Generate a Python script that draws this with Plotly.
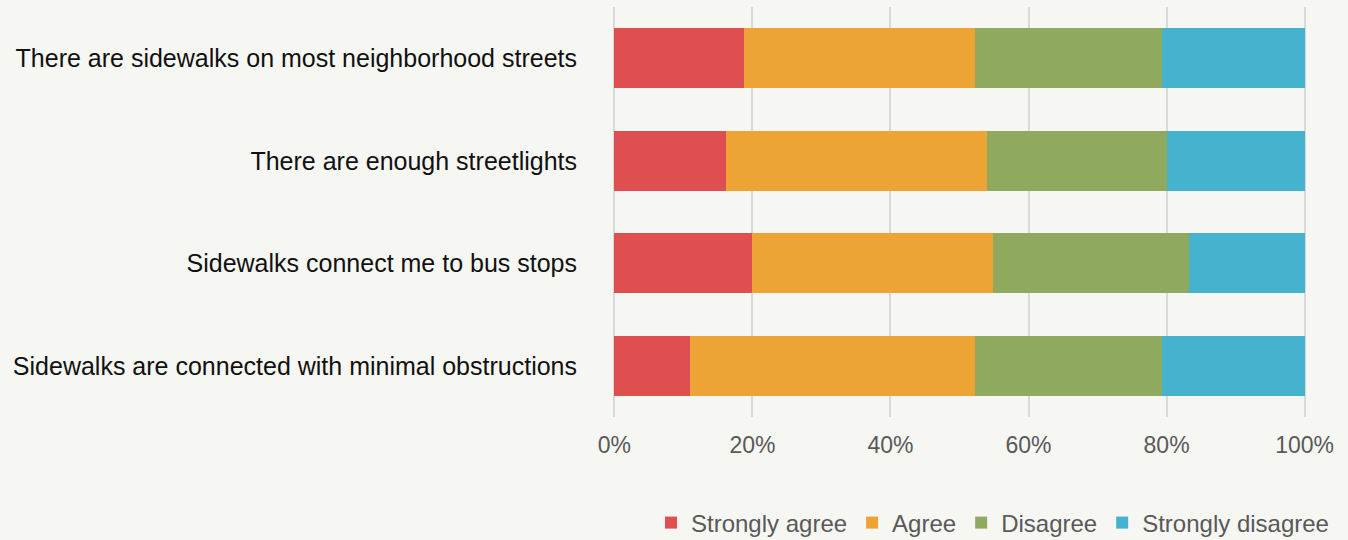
import plotly.graph_objects as go

categories = [
    "There are sidewalks on most neighborhood streets",
    "There are enough streetlights",
    "Sidewalks connect me to bus stops",
    "Sidewalks are connected with minimal obstructions",
]
strongly_agree = [18.8, 16.2, 20.0, 11.0]
agree = [33.4, 37.8, 34.8, 41.2]
disagree = [27.1, 26.1, 28.5, 27.1]
strongly_disagree = [20.7, 19.9, 16.7, 20.7]
tick_vals = [0, 20, 40, 60, 80, 100]
tick_text = ["0%", "20%", "40%", "60%", "80%", "100%"]

series = [
    ("Strongly agree", strongly_agree, "#DF4F4F"),
    ("Agree", agree, "#EEA435"),
    ("Disagree", disagree, "#8FAA5F"),
    ("Strongly disagree", strongly_disagree, "#45B2CE"),
]

fig = go.Figure()
for name, vals, color in series:
    fig.add_trace(go.Bar(
        y=categories, x=vals, name=name, orientation="h",
        marker=dict(color=color, line=dict(width=0)),
    ))

fig.update_layout(
    barmode="stack",
    bargap=0.415,
    width=1348, height=540,
    margin=dict(l=613, r=42, t=7, b=123),
    paper_bgcolor="#F6F6F2",
    plot_bgcolor="#F6F6F2",
    font=dict(family="Liberation Sans, Arial, sans-serif", size=22, color="#595959"),
    legend=dict(
        orientation="h", xref="container", yref="container",
        x=1334 / 1348, xanchor="right", y=(540 - 523) / 540, yanchor="middle",
        font=dict(size=24, color="#595959"), traceorder="normal",
        itemclick=False, bgcolor="rgba(0,0,0,0)",
    ),
    showlegend=True,
)
fig.update_xaxes(
    range=[-0.2, 100.2], tickvals=tick_vals, ticktext=tick_text,
    showgrid=True, gridcolor="#D9D9D9", gridwidth=1.5,
    zeroline=False, showline=False, ticks="",
    tickfont=dict(size=23, color="#595959"), ticklabelstandoff=12,
)
fig.update_yaxes(
    autorange="reversed", showgrid=False, zeroline=False, showline=False,
    ticks="", tickfont=dict(size=25, color="#111111"), ticklabelstandoff=35,
)

fig.write_html(
    "out.html",
    config={"displayModeBar": False},
    post_script="document.body.style.margin='0';document.body.style.overflow='hidden';document.body.style.background='#F6F6F2';",
)
